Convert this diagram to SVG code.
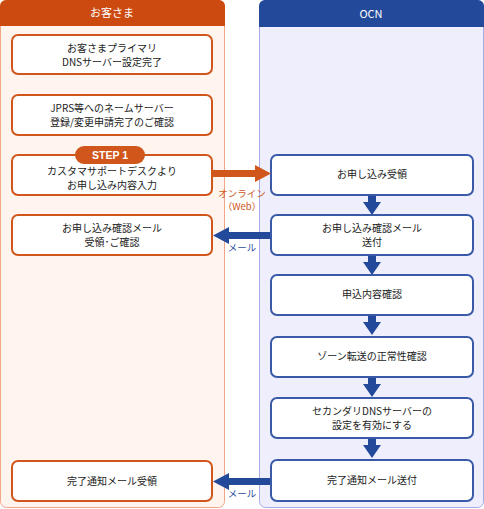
<svg xmlns="http://www.w3.org/2000/svg" width="484" height="509" viewBox="0 0 484 509">
<style>
text{font-family:"Noto Sans CJK JP","Liberation Sans",sans-serif;font-size:10px;fill:#222;text-anchor:middle}
.hd{fill:#fff;font-size:11px}
.lb{fill:#fff;stroke:#d0561c;stroke-width:2}
.rb{fill:#fff;stroke:#3a5aa8;stroke-width:2}
.ol{fill:#d0561c;font-size:9.5px}
.bl{fill:#2a4c9c;font-size:9.5px}
</style>
<defs>
<path id="down" d="M-4,0 H4 V6 H9 L0,19 L-9,6 H-4 Z" fill="#234a9a"/>
</defs>
<g id="lane-customer">
<rect x="0.5" y="0.5" width="224" height="507" rx="6" fill="#fff4ee" stroke="#f2a688"/>
<path d="M0,26 V6 A6,6 0 0 1 6,0 H219 A6,6 0 0 1 225,6 V26 Z" fill="#cc4a10"/>
<text class="hd" x="112" y="17">お客さま</text>
</g>
<g id="lane-ocn">
<rect x="259.5" y="0.5" width="224" height="507" rx="6" fill="#eeeefd" stroke="#a9ace4"/>
<path d="M259,27 V6 A6,6 0 0 1 265,0 H478 A6,6 0 0 1 484,6 V27 Z" fill="#234a9a"/>
<text class="hd" x="371" y="18">OCN</text>
</g>
<g id="node-c1"><rect class="lb" x="12" y="35" width="200" height="39" rx="6"/><text x="112" y="51.5">お客さまプライマリ</text><text x="112" y="65.5">DNSサーバー設定完了</text></g>
<g id="node-c2"><rect class="lb" x="12" y="95" width="200" height="40" rx="6"/><text x="112" y="112">JPRS等へのネームサーバー</text><text x="112" y="126">登録/変更申請完了のご確認</text></g>
<g id="node-c3"><rect class="lb" x="12" y="155" width="200" height="40" rx="6"/><text x="112" y="175">カスタマサポートデスクより</text><text x="112" y="189">お申し込み内容入力</text>
<rect x="75" y="146" width="70" height="18" rx="9" fill="#d0561c"/><text x="110" y="159" style="fill:#fff;font-size:10.5px;font-family:'Liberation Sans',sans-serif;font-weight:bold">STEP 1</text></g>
<g id="node-c4"><rect class="lb" x="12" y="215" width="200" height="40" rx="6"/><text x="112" y="231.5">お申し込み確認メール</text><text x="112" y="245.5">受領･ご確認</text></g>
<g id="node-c5"><rect class="lb" x="12" y="461" width="200" height="40" rx="6"/><text x="112" y="485">完了通知メール受領</text></g>
<g id="node-o1"><rect class="rb" x="271" y="155" width="202" height="40" rx="6"/><text x="372" y="178">お申し込み受領</text></g>
<g id="node-o2"><rect class="rb" x="271" y="215" width="202" height="40" rx="6"/><text x="372" y="231.5">お申し込み確認メール</text><text x="372" y="245.5">送付</text></g>
<g id="node-o3"><rect class="rb" x="271" y="275" width="202" height="40" rx="6"/><text x="372" y="298">申込内容確認</text></g>
<g id="node-o4"><rect class="rb" x="271" y="337" width="202" height="40" rx="6"/><text x="372" y="360">ゾーン転送の正常性確認</text></g>
<g id="node-o5"><rect class="rb" x="271" y="398" width="202" height="40" rx="6"/><text x="372" y="414.5">セカンダリDNSサーバーの</text><text x="372" y="428.5">設定を有効にする</text></g>
<g id="node-o6"><rect class="rb" x="271" y="460" width="202" height="41" rx="6"/><text x="372" y="484">完了通知メール送付</text></g>
<g id="connectors">
<path d="M213,170 H255 V165 L271,173.5 L255,182 V177 H213 Z" fill="#d0561c"/>
<path d="M270,232 H229 V227 L213,235.5 L229,244 V239 H270 Z" fill="#234a9a"/>
<path d="M270,478 H229 V473 L213,481.5 L229,490 V485 H270 Z" fill="#234a9a"/>
<use href="#down" x="372" y="196"/>
<use href="#down" x="372" y="256"/>
<use href="#down" x="372" y="316"/>
<use href="#down" x="372" y="378"/>
<use href="#down" x="372" y="439"/>
<text class="ol" x="242" y="196.5">オンライン</text>
<text class="ol" x="242" y="209.5">（Web）</text>
<text class="bl" x="242" y="251">メール</text>
<text class="bl" x="242" y="497">メール</text>
</g>
</svg>
